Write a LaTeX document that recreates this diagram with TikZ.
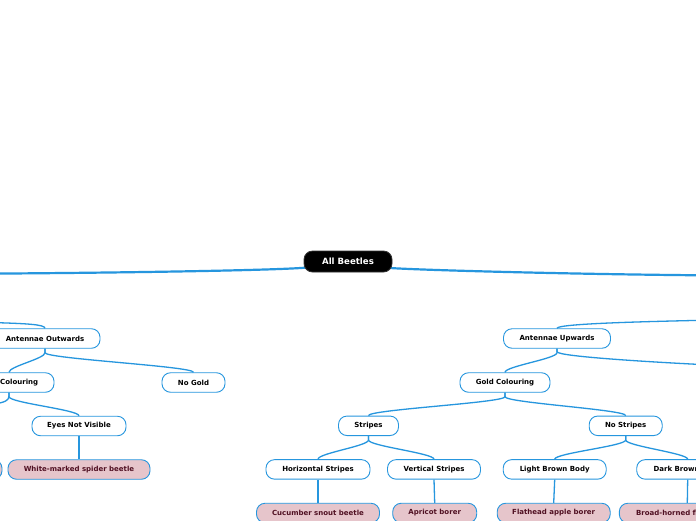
\documentclass[tikz,border=0pt]{standalone}
\usepackage{fontspec}
\setmainfont{DejaVu Sans}
\definecolor{linkblue}{RGB}{38,150,222}
\definecolor{leaffill}{RGB}{230,197,203}
\definecolor{leaftext}{RGB}{80,16,34}
\tikzset{
  box/.style={draw=linkblue, line width=0.9pt, fill=white, rounded corners=8.5pt,
    minimum height=19.5pt, inner sep=0pt, font=\fontsize{7}{8}\selectfont\bfseries, text=black},
  leaf/.style={box, fill=leaffill, text=leaftext},
  rootbox/.style={draw=black!80, line width=0.8pt, fill=black, rounded corners=8.5pt,
    minimum height=21pt, minimum width=88pt, inner sep=0pt,
    font=\fontsize{8.6}{9}\selectfont\bfseries, text=white},
  link/.style={draw=linkblue, line width=1.3pt},
  mainlink/.style={draw=linkblue, line width=2.2pt},
}
\begin{document}
\begin{tikzpicture}[x=1pt,y=-1pt]
\useasboundingbox[fill=white] (0,0) rectangle (696,520);
% off-screen ends
\coordinate (rootL) at (-5,273.6);
\coordinate (rootR) at (701,275.3);
\coordinate (aoP) at (-5,322.6);
\coordinate (auP) at (701,320.3);
\coordinate (auS) at (701,364.5);
\coordinate (gcLC) at (-5,404);
\coordinate (rootLa) at (306,267.6);
\coordinate (rootRa) at (390,268);
% connectors drawn first
\draw[mainlink] (rootLa) .. controls (280,270) and (150,272.5) .. (rootL);
\draw[mainlink] (rootRa) .. controls (420,270) and (560,274) .. (rootR);
% nodes
\node[rootbox] (root) at (348,261.5) {All Beetles};
\node[box, minimum width=110pt] (ao) at (45,338.5) {Antennae Outwards};
\node[box, minimum width=90pt] (gcL) at (9,382.5) {Gold Colouring};
\node[box, minimum width=63pt] (ng) at (193.5,382.5) {No Gold};
\node[box, minimum width=94pt] (env) at (79,426) {Eyes Not Visible};
\node[leaf, minimum width=142pt] (wm) at (79,469.5) {White-marked spider beetle};
\node[leaf, minimum width=144pt] (leafL) at (-70,469.5) {};
\node[box, minimum width=107pt] (au) at (557,338.5) {Antennae Upwards};
\node[box, minimum width=90pt] (gc) at (505,382.5) {Gold Colouring};
\node[box, minimum width=60pt] (st) at (368.5,425.8) {Stripes};
\node[box, minimum width=73pt] (ns) at (625.7,425.8) {No Stripes};
\node[box, minimum width=104pt] (hs) at (318,469.4) {Horizontal Stripes};
\node[box, minimum width=93pt] (vs) at (434,469.4) {Vertical Stripes};
\node[box, minimum width=103pt] (lbb) at (554.7,469.4) {Light Brown Body};
\node[box, minimum width=102pt] (dbb) at (687.7,469.4) {Dark Brown Body};
\node[leaf, minimum width=123pt] (csb) at (318,513) {Cucumber snout beetle};
\node[leaf, minimum width=84pt] (ab) at (434.7,513) {Apricot borer};
\node[leaf, minimum width=113pt] (fab) at (553.7,513) {Flathead apple borer};
\node[leaf, minimum width=136pt] (bh) at (687.3,513) {Broad-horned flour beetle};
% tree connectors
\draw[link] (ao.north) .. controls +(0,-4) and +(30,1) .. (aoP);
\draw[link] (ao.south) -- ++(0,4) .. controls +(0,6) and +(0,-6) .. (gcL.north);
\draw[link] (ao.south) -- ++(0,4) .. controls +(0,6) and +(0,-6) .. (ng.north);
\draw[link] (gcL.south) -- ++(0,3) .. controls +(0,5) and +(10,-2) .. (gcLC);
\draw[link] (gcL.south) -- ++(0,4) .. controls +(0,6) and +(0,-6) .. (env.north);
\draw[link] (env.south) -- (wm.north);
\draw[link] (au.north) .. controls +(0,-5) and +(-40,1) .. (auP);
\draw[link] (au.south) -- ++(0,3) .. controls +(0,5) and +(-40,-2) .. (auS);
\draw[link] (au.south) -- ++(0,4) .. controls +(0,6) and +(0,-6) .. (gc.north);
\draw[link] (gc.south) -- ++(0,4) .. controls +(0,6) and +(0,-6) .. (st.north);
\draw[link] (gc.south) -- ++(0,4) .. controls +(0,6) and +(0,-6) .. (ns.north);
\draw[link] (st.south) -- ++(0,4) .. controls +(0,6) and +(0,-6) .. (hs.north);
\draw[link] (st.south) -- ++(0,4) .. controls +(0,6) and +(0,-6) .. (vs.north);
\draw[link] (ns.south) -- ++(0,4) .. controls +(0,6) and +(0,-6) .. (lbb.north);
\draw[link] (ns.south) -- ++(0,4) .. controls +(0,6) and +(0,-6) .. (dbb.north);
\draw[link] (hs.south) -- (csb.north);
\draw[link] (vs.south) -- (ab.north);
\draw[link] (lbb.south) -- (fab.north);
\draw[link] (dbb.south) -- (bh.north);
\end{tikzpicture}
\end{document}
